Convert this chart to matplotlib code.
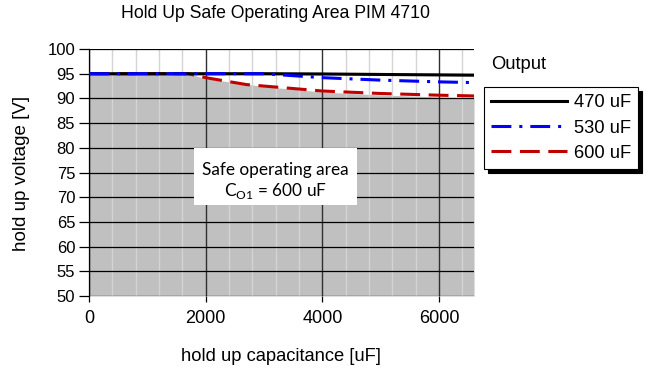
import matplotlib
matplotlib.use("Agg")
import matplotlib.pyplot as plt
from matplotlib.patches import Rectangle
from matplotlib.ticker import MultipleLocator

plt.rcParams['font.family'] = ['Liberation Sans', 'DejaVu Sans']
plt.rcParams['mathtext.fontset'] = 'custom'
plt.rcParams['mathtext.rm'] = 'Lato'

# hold up curves per output capacitance (capacitance in uF, voltage in V)
cap_470 = [0, 1000, 2000, 3000, 4000, 5000, 6600]
volt_470 = [95.0, 95.0, 95.0, 95.0, 94.95, 94.85, 94.7]

cap_530 = [0, 1000, 2000, 3000, 4000, 5000, 6000, 6600]
volt_530 = [95.0, 95.0, 95.0, 95.0, 94.2, 93.7, 93.35, 93.2]

cap_600 = [0, 1000, 1700, 2000, 2700, 3000, 4000, 5000, 6000, 6600]
volt_600 = [95.0, 95.0, 95.0, 94.2, 92.8, 92.5, 91.5, 91.0, 90.65, 90.5]

# safe operating area boundary
soa_cap = [0, 1700, 2000, 3000, 4000, 5000, 6000, 6600]
soa_volt = [95.0, 95.0, 94.0, 92.4, 91.3, 90.7, 90.3, 90.1]

labels = ['470 uF', '530 uF', '600 uF']

fig = plt.figure(figsize=(6.46, 3.73), dpi=100)
ax = fig.add_axes([0.1378, 0.2064, 0.596, 0.6622])

ax.fill_between(soa_cap, 50, soa_volt, color='#c0c0c0', lw=0, zorder=0)

ax.set_xlim(0, 6600)
ax.set_ylim(50, 100)
ax.xaxis.set_major_locator(MultipleLocator(2000))
ax.xaxis.set_minor_locator(MultipleLocator(400))
ax.yaxis.set_major_locator(MultipleLocator(5))
ax.grid(which='minor', axis='x', color='#d4d4d4', lw=1.0, zorder=1)
ax.grid(which='major', axis='x', color='#303030', lw=1.0, zorder=1)
ax.grid(which='major', axis='y', color='black', lw=0.9, zorder=1)
ax.set_axisbelow(True)
for s in ['top', 'right', 'bottom']:
    ax.spines[s].set_visible(False)
ax.spines['left'].set_linewidth(0.9)
ax.tick_params(axis='y', which='major', length=7, width=0.9, labelsize=12, pad=3)
ax.tick_params(axis='x', which='major', length=4, width=0.9, labelsize=13, pad=6)
ax.tick_params(axis='x', which='minor', length=0)

l1, = ax.plot(cap_470, volt_470, color='black', lw=2.2, zorder=4)
l2, = ax.plot(cap_530, volt_530, color='#0000ff', lw=2.2,
              dashes=(6.5, 2.6, 1, 2.6), zorder=4)
l3, = ax.plot(cap_600, volt_600, color='#c00000', lw=2.2,
              dashes=(6.5, 2.8), zorder=3)

# label box inside the safe area
ax.add_patch(Rectangle((1795, 68.4), 2805, 11.6, facecolor='white',
                       edgecolor='none', zorder=5))
ax.text(3200, 75.6, 'Safe operating area', ha='center', va='center',
        family='Lato', fontsize=12.4, zorder=6)
ax.text(3200, 71.3, r'C$_\mathrm{O1}$ = 600 uF', ha='center', va='center',
        family='Lato', fontsize=12.4, zorder=6)

fig.text(0.427, 0.965, 'Hold Up Safe Operating Area PIM 4710',
         ha='center', va='center', fontsize=12.7)
fig.text(0.435, 0.045, 'hold up capacitance [uF]', ha='center',
         va='center', fontsize=13.2)
fig.text(0.033, 0.534, 'hold up voltage [V]', ha='center', va='center',
         rotation=90, fontsize=13.5)

fig.text(0.760, 0.826, 'Output', ha='left', va='center', fontsize=13.2)
leg = ax.legend([l1, l2, l3], labels, loc='upper left',
                bbox_to_anchor=(1.026, 0.846), frameon=True, fancybox=False,
                shadow={'color': 'black', 'alpha': 1.0, 'ox': 2.5, 'oy': -2.5},
                fontsize=13.2, handlelength=4.1, handletextpad=0.4,
                labelspacing=0.45, borderpad=0.4, borderaxespad=0)
leg.get_frame().set_edgecolor('black')
leg.get_frame().set_linewidth(0.8)

fig.savefig('out.png', dpi=100)
